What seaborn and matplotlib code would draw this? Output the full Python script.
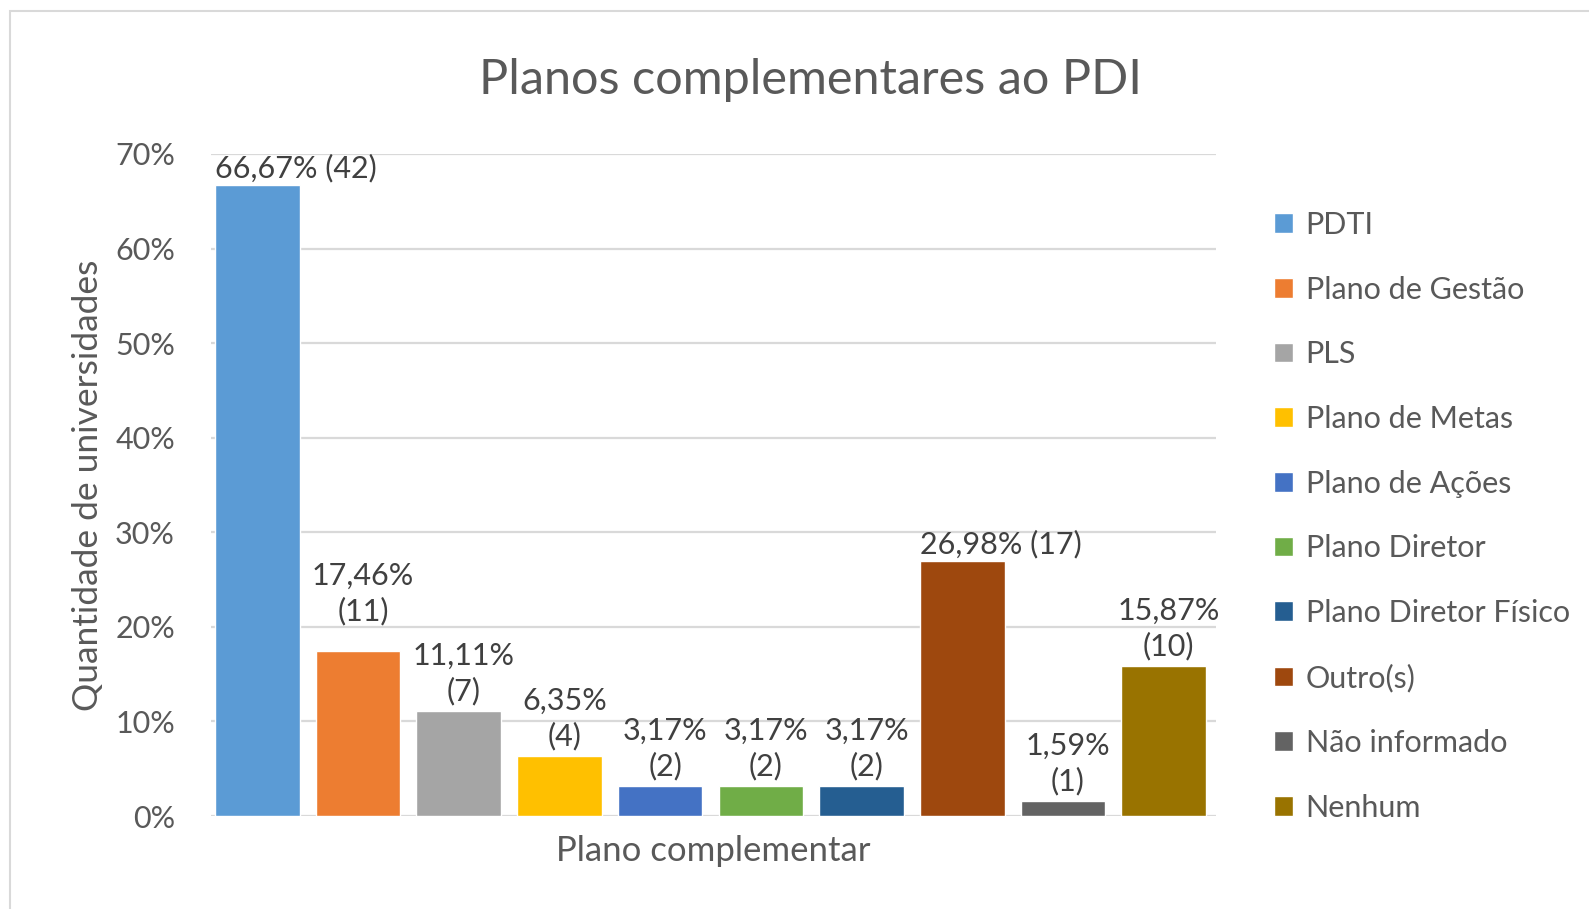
import numpy as np
import pandas as pd
import seaborn as sns
import matplotlib.pyplot as plt
from matplotlib.patches import Rectangle
from matplotlib.ticker import FuncFormatter

# dados do gráfico
planos = ['PDTI', 'Plano de Gestão', 'PLS', 'Plano de Metas', 'Plano de Ações',
          'Plano Diretor', 'Plano Diretor Físico', 'Outro(s)', 'Não informado', 'Nenhum']
percentuais = [66.67, 17.46, 11.11, 6.35, 3.17, 3.17, 3.17, 26.98, 1.59, 15.87]
quantidades = [42, 11, 7, 4, 2, 2, 2, 17, 1, 10]
cores = ['#5B9BD5', '#ED7D31', '#A5A5A5', '#FFC000', '#4472C4',
         '#70AD47', '#255E91', '#9E480E', '#636363', '#997300']
yticks = [0, 10, 20, 30, 40, 50, 60, 70]

df = pd.DataFrame({'Plano': planos, 'Percentual': percentuais, 'Qtd': quantidades})

sns.set_style('white')
plt.rcParams['font.family'] = ['Lato', 'DejaVu Sans']

cinza = '#595959'
fig = plt.figure(figsize=(15.89, 9.09), dpi=100)
ax = fig.add_axes([0.1328, 0.1023, 0.6325, 0.7283])

sns.barplot(data=df, x='Plano', y='Percentual', hue='Plano', palette=cores,
            saturation=1, width=0.84, dodge=False, ax=ax, legend=True)

ax.set_ylim(0, 70)
ax.set_xlim(-0.46, 9.52)
ax.set_yticks(yticks)
ax.yaxis.set_major_formatter(FuncFormatter(lambda v, p: '%d%%' % v))
ax.tick_params(axis='y', labelsize=22, labelcolor=cinza, length=0, pad=26)
ax.set_xticks([])
ax.yaxis.grid(True, color='#d9d9d9', linewidth=1.6)
ax.set_axisbelow(True)
for s in ax.spines.values():
    s.set_visible(False)

ax.set_xlabel('Plano complementar', fontsize=25, color=cinza, labelpad=14)
ax.set_ylabel('Quantidade de universidades', fontsize=25.5, color=cinza, labelpad=8)

# rótulos dos dados (o de 17,46% fica mais alto, como no original)
extra = {1: 14}
for i, (p, q) in enumerate(zip(percentuais, quantidades)):
    txt_p = ('%.2f%%' % p).replace('.', ',')
    if p > 25:
        ax.annotate('%s (%d)' % (txt_p, q), (i - 0.42, p), xytext=(0, 2),
                    textcoords='offset points', ha='left', va='bottom',
                    fontsize=22, color='#404040')
    else:
        ax.annotate('%s\n(%d)' % (txt_p, q), (i + 0.05, p), xytext=(0, 4 + extra.get(i, 0)),
                    textcoords='offset points', ha='center', va='bottom',
                    fontsize=22, color='#404040', linespacing=1.3)

fig.text(0.51, 0.912, 'Planos complementares ao PDI', fontsize=35, color=cinza,
         ha='center', va='center')

leg = ax.legend(loc='upper left', bbox_to_anchor=(0.802, 0.768), bbox_transform=fig.transFigure,
                frameon=False, fontsize=22, handlelength=0.62, handleheight=0.62,
                handletextpad=0.4, labelspacing=1.2, borderpad=0, borderaxespad=0)
for t in leg.get_texts():
    t.set_color(cinza)

fig.patches.append(Rectangle((10 / 1589, -0.05), 1.2, 1.05 - 11 / 909,
                             transform=fig.transFigure, fill=False,
                             edgecolor='#d9d9d9', linewidth=1.5))

fig.savefig('out.png', dpi=100)
